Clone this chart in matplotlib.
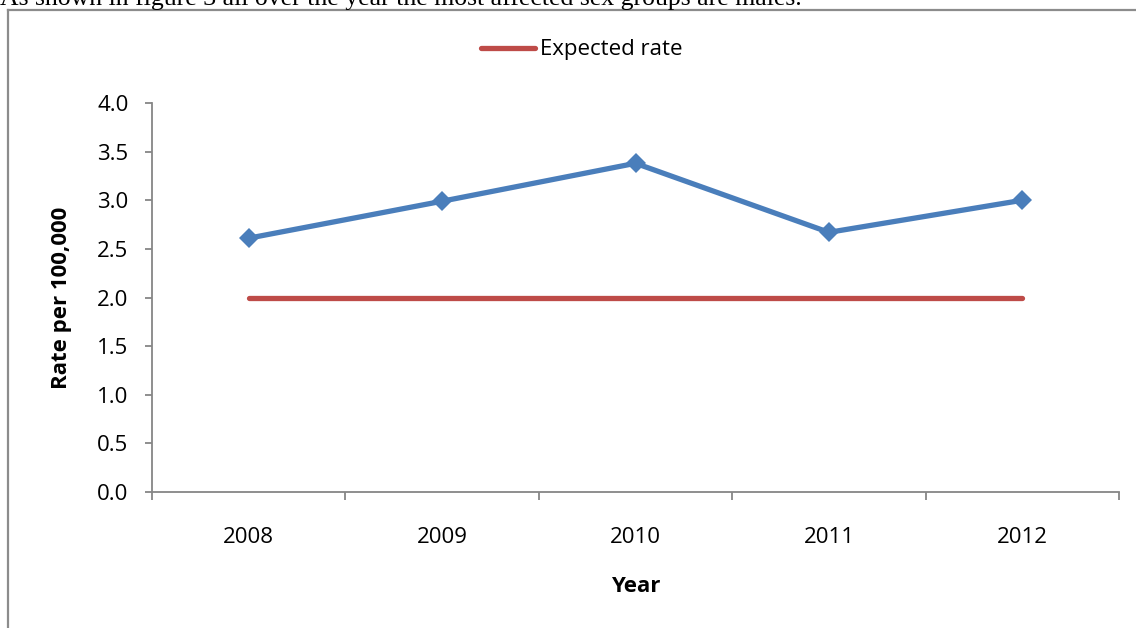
import matplotlib
matplotlib.use("Agg")
import matplotlib.pyplot as plt
from matplotlib.lines import Line2D

plt.rcParams["font.family"] = ["Open Sans", "DejaVu Sans"]

years = ["2008", "2009", "2010", "2011", "2012"]
observed_rate = [2.61, 2.99, 3.38, 2.67, 3.00]
expected_rate = [2.0, 2.0, 2.0, 2.0, 2.0]
y_ticks = [0.0, 0.5, 1.0, 1.5, 2.0, 2.5, 3.0, 3.5, 4.0]

W, H = 1136, 628
fig = plt.figure(figsize=(W / 100, H / 100), dpi=100)
ax = fig.add_axes([152 / W, 1 - 492 / H, (1119 - 152) / W, (492 - 103) / H])

x = list(range(len(years)))
blue = "#4A7EBB"
red = "#BE4B48"
axis_grey = "#868686"
label_size = 16

ax.plot(x, observed_rate, color=blue, lw=3.8, marker="D", markersize=10.5,
        markeredgewidth=0, solid_capstyle="round", solid_joinstyle="round", zorder=3)
red_line, = ax.plot(x, expected_rate, color=red, lw=3.8, solid_capstyle="round",
                    label="Expected rate", zorder=2)

ax.set_xlim(-0.5, len(years) - 0.5)
ax.set_ylim(0, 4.0)

# category boundaries as major ticks, labels centred between them
ax.set_xticks([i - 0.5 for i in range(len(years) + 1)])
ax.set_xticklabels([])
ax.set_xticks(x, minor=True)
ax.set_xticklabels(years, minor=True)
ax.tick_params(axis="x", which="major", direction="out", length=6, width=1.3, color=axis_grey)
ax.tick_params(axis="x", which="minor", length=0, pad=25, labelsize=label_size)

ax.set_yticks(y_ticks)
ax.set_yticklabels([f"{v:.1f}" for v in y_ticks])
ax.tick_params(axis="y", direction="out", length=5, width=1.3, color=axis_grey,
               pad=12, labelsize=label_size)

for side in ("top", "right"):
    ax.spines[side].set_visible(False)
for side in ("left", "bottom"):
    ax.spines[side].set_color(axis_grey)
    ax.spines[side].set_linewidth(1.3)

fig.text(62 / W, 1 - 298 / H, "Rate per 100,000", rotation=90, ha="center", va="center",
         fontsize=label_size, fontweight="bold")
fig.text(636 / W, 1 - 587 / H, "Year", ha="center", va="center",
         fontsize=label_size, fontweight="bold")

fig.legend(handles=[red_line], loc="center", bbox_to_anchor=(582 / W, 1 - 50 / H),
           frameon=False, fontsize=label_size, handlelength=2.4, handletextpad=0.25)

# surrounding chart frame and the line of body text above it
frame_grey = "#8C8C8C"
fig.add_artist(Line2D([8 / W, 8 / W], [0, 1 - 10 / H], color=frame_grey, lw=1.6,
                      transform=fig.transFigure))
fig.add_artist(Line2D([8 / W, 1], [1 - 10 / H, 1 - 10 / H], color=frame_grey, lw=1.6,
                      transform=fig.transFigure))
fig.text(0, 1 - 5.5 / H, "As shown in figure 3 all over the year the most affected sex groups are males.",
         family=["Liberation Serif", "DejaVu Serif"], fontsize=18.5, ha="left", va="baseline")

fig.savefig("out.png", dpi=100)
